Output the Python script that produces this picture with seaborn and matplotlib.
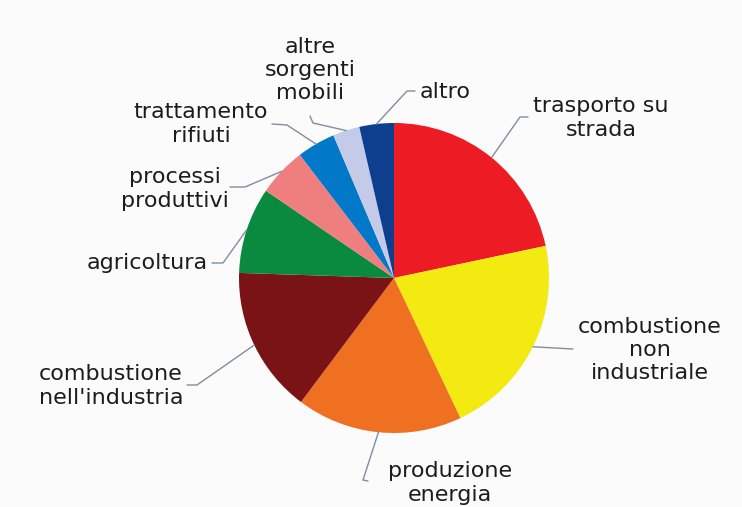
import numpy as np
import matplotlib
matplotlib.use("Agg")
import matplotlib.pyplot as plt
import seaborn as sns

# emission sources and their shares (%), clockwise from 12 o'clock
sources = ["trasporto su\nstrada", "combustione\nnon\nindustriale", "produzione\nenergia",
           "combustione\nnell'industria", "agricoltura", "processi\nproduttivi",
           "trattamento\nrifiuti", "altre\nsorgenti\nmobili", "altro"]
shares = [21.7, 21.3, 17.3, 15.3, 9.0, 5.1, 4.0, 2.8, 3.6]
slice_colors = ["#ed1c24", "#f2ea10", "#f07021", "#7a1315", "#0a8a3e",
                "#ef7f7f", "#0278c9", "#c4cbe9", "#0e3f8f"]

W, H = 742, 507

# layout (image pixels, y down): label anchor, alignment, leader elbow + end
label_pos = [(601, 118), (650, 350), (450, 483), (111, 386), (208, 263),
             (175, 189), (201, 124), (310, 70), (420, 92)]
label_ha = ["center", "center", "center", "center", "right",
            "center", "center", "center", "left"]
leader_pts = [[(520, 117), (528, 117)], [(573, 349), (573, 349)], [(363, 480), (368, 481)],
              [(197, 385), (187, 385)], [(223, 263), (212, 263)], [(245, 187), (230, 187)],
              [(287, 125), (272, 124)], [(313, 123), (310, 116)], [(407, 91), (415, 91)]]


def px(x, y):
    return x, H - y


sns.set_theme(style="white")
plt.rcParams["font.family"] = ["DejaVu Sans"]

fig = plt.figure(figsize=(W / 100, H / 100), dpi=100, facecolor="#fbfbfc")
ax = fig.add_axes([0, 0, 1, 1])
ax.set_facecolor("#fbfbfc")

cx, cy = px(394, 278)
r = 155
wedges, _ = ax.pie(shares, colors=sns.color_palette(slice_colors), startangle=90,
                   counterclock=False, center=(cx, cy), radius=r,
                   wedgeprops=dict(linewidth=0))

for w, name, pos, ha, pts in zip(wedges, sources, label_pos, label_ha, leader_pts):
    mid = np.deg2rad((w.theta1 + w.theta2) / 2)
    xs = [cx + r * np.cos(mid)] + [p[0] for p in pts]
    ys = [cy + r * np.sin(mid)] + [H - p[1] for p in pts]
    ax.plot(xs, ys, color="#7f8e9c", lw=1)
    tx, ty = px(*pos)
    ax.text(tx, ty, name, ha=ha, va="center", multialignment="center",
            fontsize=16, color="#1c1c1c", linespacing=1.2)

ax.set_xlim(0, W)
ax.set_ylim(0, H)
ax.set_aspect("equal")
ax.axis("off")

fig.savefig("out.png", dpi=100, facecolor=fig.get_facecolor())
